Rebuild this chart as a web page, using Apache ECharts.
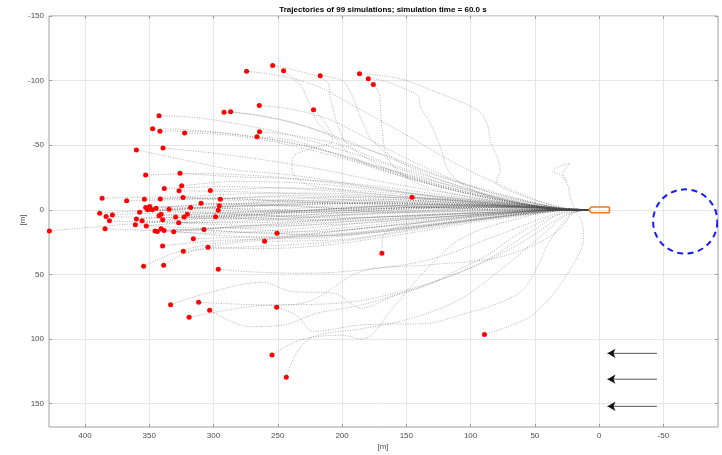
<!DOCTYPE html>
<html><head><meta charset="utf-8">
<script src="https://cdn.jsdelivr.net/npm/echarts@6/dist/echarts.min.js"></script>
<style>html,body{margin:0;padding:0;background:#fff}#c{width:722px;height:455px}</style>
</head><body><div id="c"></div>
<script>
const titleText = 'Trajectories of 99 simulations; simulation time = 60.0 s';
const xLimits = [-92.5, 428];
const yLimits = [-150, 168];
const xTickValues = [-50, 0, 50, 100, 150, 200, 250, 300, 350, 400];
const yTickValues = [-150, -100, -50, 0, 50, 100, 150];

// each trajectory: end point first, back to the start at the ship's bow
const upperTrajectories = [
 [[274.3,-107.3],[250,-104],[220,-96],[190,-80],[150,-58],[110,-35],[60,-12],[30,-2],[8,0]],
 [[254,-111.7],[237.7,-108.4],[211.7,-99.3],[209,-86.5],[204,-68],[195,-50],[160,-30],[100,-12],[45,-3],[25,-1],[8,0]],
 [[245.5,-107.6],[232.5,-96.7],[227.3,-86.5],[219.5,-68.3],[207,-54],[225,-47],[238,-41],[239,-31],[232,-22],[219,-18],[170,-12],[100,-6],[45,-2],[25,0],[8,0]],
 [[217,-103.7],[200,-100],[192,-88],[185,-70],[175,-52],[145,-32],[90,-13],[40,-3],[22,0],[8,0]],
 [[186.4,-105.3],[157,-102],[131.4,-92.9],[95.1,-77.4],[87.3,-67.1],[84.8,-54.2],[77,-31],[80,-22],[60,-11],[38,-4],[24,-1],[8,0]],
 [[179.6,-101.4],[170.3,-100.6],[149.5,-92.9],[140.5,-87.7],[139.2,-80],[131.4,-67.1],[123.6,-49],[115.9,-28.4],[92.5,-12.9],[55,-4],[26,-1],[8,0]],
 [[175.7,-97],[171,-90],[170.3,-82.6],[169,-64.5],[163.8,-38.7],[141.8,-20.7],[100,-10],[50,-3],[25,0],[8,0]],
 [[264.4,-80.7],[240,-78],[210,-70],[180,-55],[140,-35],[90,-15],[40,-3],[24,0],[8,0]],
 [[222.2,-77.4],[215,-70],[205,-55],[190,-40],[150,-25],[100,-12],[50,-3],[25,-1],[8,0]],
 [[291.8,-75.6],[270,-74],[240,-68],[200,-55],[150,-35],[90,-15],[40,-3],[24,0],[8,0]],
 [[286.7,-75.9],[260,-72],[230,-65],[190,-50],[160,-40],[120,-25],[60,-8],[28,-1],[8,0]],
 [[264.2,-60.4],[240,-58],[200,-50],[170,-38],[130,-25],[80,-10],[35,-2],[22,0],[8,0]],
 [[266.2,-56.5],[240,-54],[210,-45],[170,-33],[120,-20],[60,-5],[27,-1],[8,0]],
 [[342.4,-72.8],[310,-71],[258,-62],[230,-55],[180,-40],[120,-20],[60,-5],[27,0],[8,0]],
 [[347.4,-62.7],[320,-62],[280,-58],[230,-50],[180,-35],[120,-18],[60,-5],[28,-1],[8,0]],
 [[341.7,-60.9],[300,-60],[260,-55],[210,-45],[160,-30],[100,-13],[50,-3],[25,0],[8,0]],
 [[322.5,-59.4],[290,-58],[250,-52],[200,-40],[150,-25],[90,-10],[40,-2],[22,0],[8,0]],
 [[339.3,-47.8],[310,-45],[270,-40],[220,-32],[170,-22],[100,-10],[50,-3],[25,0],[8,0]],
 [[360,-46.4],[310,-36],[284.5,-31],[240,-27],[180,-18],[110,-8],[50,-2],[26,0],[8,0]]
];

const centralTrajectories = [
 [[427.7,16.3],[390,13],[340,9],[270,4],[190,-2],[110,-4],[50,-2],[28,-1],[8,0]],
 [[386.7,-9],[340,-10],[270,-8],[190,-6],[110,-4],[50,-2],[26,0],[8,0]],
 [[388.6,2.6],[340,0],[260,-3],[180,-5],[100,-3],[45,-1],[24,0],[8,0]],
 [[383.6,5.2],[330,6],[250,3],[170,-1],[90,-3],[40,-1],[25,0],[8,0]],
 [[378.7,3.9],[320,2],[240,5],[160,2],[80,0],[35,0],[22,0],[8,0]],
 [[381,8.5],[330,10],[260,8],[190,4],[110,1],[45,0],[26,0],[8,0]],
 [[384.4,14.7],[340,16],[270,12],[200,7],[120,3],[50,1],[27,0],[8,0]],
 [[367.6,-7],[320,-8],[250,-10],[180,-7],[100,-4],[40,-1],[24,0],[8,0]],
 [[352.8,-26.9],[310,-28],[260,-26],[200,-20],[140,-12],[70,-5],[30,-1],[8,0]],
 [[353.8,-8.3],[300,-9],[230,-6],[150,-5],[80,-3],[35,-1],[22,0],[8,0]],
 [[357.5,1.8],[300,-2],[230,-4],[160,-6],[90,-4],[40,-1],[25,0],[8,0]],
 [[360,7],[310,5],[240,1],[160,-2],[90,-2],[40,0],[24,0],[8,0]],
 [[360.8,11.6],[310,14],[250,13],[180,8],[110,3],[50,1],[28,0],[8,0]],
 [[355.6,8.5],[300,10],[230,9],[160,5],[90,2],[40,0],[25,0],[8,0]],
 [[352.3,12.4],[300,8],[230,4],[160,0],[90,-2],[40,-1],[24,0],[8,0]],
 [[352.8,-1.8],[300,-4],[240,-7],[170,-8],[100,-5],[45,-2],[26,0],[8,0]],
 [[351.2,0],[290,2],[220,0],[150,-3],[80,-3],[35,-1],[22,0],[8,0]],
 [[349.7,-2.6],[290,-1],[220,2],[150,1],[80,-1],[35,0],[23,0],[8,0]],
 [[347.6,0],[280,-3],[210,-5],[140,-4],[70,-2],[30,0],[8,0]],
 [[344.7,-1.3],[290,-5],[230,-3],[160,2],[90,1],[40,0],[25,0],[8,0]],
 [[338.3,-16.5],[290,-18],[230,-16],[160,-11],[90,-6],[40,-2],[25,0],[8,0]],
 [[341.4,-8.5],[290,-12],[220,-13],[150,-9],[80,-4],[35,-1],[22,0],[8,0]],
 [[342.4,4.6],[290,3],[220,6],[150,5],[80,2],[35,0],[22,0],[8,0]],
 [[340.8,3.3],[280,5],[210,3],[140,-1],[70,-2],[30,-1],[8,0]],
 [[339.6,7.7],[280,6],[210,8],[140,6],[70,2],[30,0],[8,0]],
 [[345.5,16.3],[300,18],[240,15],[170,9],[100,4],[45,1],[26,0],[8,0]],
 [[343.7,16.8],[290,14],[230,17],[160,12],[90,5],[40,1],[25,0],[8,0]],
 [[340.8,14.7],[280,17],[220,19],[150,13],[80,5],[35,1],[22,0],[8,0]],
 [[338.5,16],[290,20],[230,22],[170,17],[100,8],[45,2],[26,0],[8,0]],
 [[339.6,27.9],[300,24],[250,22],[190,18],[120,10],[60,3],[28,0],[8,0]],
 [[326.1,-28.4],[290,-26],[240,-24],[180,-19],[110,-10],[50,-3],[26,0],[8,0]],
 [[324.8,-18.6],[280,-22],[220,-20],[160,-14],[90,-7],[40,-2],[24,0],[8,0]],
 [[326.8,-14.7],[280,-14],[220,-12],[150,-9],[80,-5],[35,-1],[22,0],[8,0]],
 [[323.7,-9.5],[270,-7],[200,-10],[140,-9],[80,-5],[35,-1],[22,0],[8,0]],
 [[334.6,-0.5],[280,-1],[210,1],[140,-2],[70,-3],[30,-1],[8,0]],
 [[331,17],[280,13],[220,10],[150,7],[80,3],[35,0],[22,0],[8,0]],
 [[329.5,5.6],[270,7],[200,4],[130,0],[70,-2],[30,-1],[8,0]],
 [[327.1,10],[270,12],[200,11],[130,6],[70,2],[30,0],[8,0]],
 [[322.9,5.6],[260,3],[190,-2],[120,-4],[60,-3],[28,-1],[8,0]],
 [[320.4,3.3],[260,1],[200,-3],[130,-2],[70,0],[30,0],[8,0]],
 [[317.8,-1.8],[260,-4],[190,-7],[120,-6],[60,-3],[28,-1],[8,0]],
 [[309.7,-5.2],[250,-3],[180,-1],[110,-2],[55,-1],[25,0],[8,0]],
 [[302.5,-15],[250,-17],[190,-15],[120,-9],[60,-4],[28,-1],[8,0]],
 [[294.7,-8.3],[240,-11],[180,-9],[120,-6],[60,-2],[28,0],[8,0]],
 [[295.5,-3.1],[240,-6],[170,-4],[110,-1],[55,0],[25,0],[8,0]],
 [[296.3,0.3],[240,2],[170,-1],[100,-3],[50,-2],[25,0],[8,0]],
 [[298.4,5.4],[240,8],[180,6],[110,3],[55,1],[25,0],[8,0]],
 [[307.4,15.2],[260,18],[200,14],[140,8],[70,3],[30,0],[8,0]],
 [[315.7,22.4],[270,21],[210,20],[150,14],[80,6],[35,1],[22,0],[8,0]],
 [[250.6,18],[220,20],[170,17],[110,9],[60,3],[28,0],[8,0]],
 [[145.6,-9.8],[120,-8],[90,-5],[55,-2],[30,-1],[8,0]],
 [[169,33.5],[168,20],[150,12],[100,5],[50,1],[26,0],[8,0]],
 [[260.3,24.2],[230,24],[190,22],[140,14],[80,6],[35,1],[22,0],[8,0]]
];

const lowerTrajectories = [
 [[89.2,96.5],[70,90],[50,80],[25,50],[12,20],[14,8],[18,2],[8,0]],
 [[243.4,129.5],[235,110],[222,98],[185,92],[150,85],[110,70],[75,45],[45,20],[25,4],[8,0]],
 [[254.5,112.2],[232.5,100.6],[200,97],[185,100],[159,74],[138,50],[107,22],[60,6],[26,0],[8,0]],
 [[250.9,75.3],[235,82],[222,94],[185,89],[133,87.7],[107,81],[81.6,73.5],[60.6,63],[50,47.8],[40,27],[29.5,11.6],[20,2],[8,0]],
 [[333.4,73.5],[310,65.8],[261,56],[250.6,59.3],[240,63],[206.6,64.5],[185,76],[159,66],[133,58],[107,45],[86.5,34.8],[68.4,22],[50,11.6],[30,3],[8,0]],
 [[311.6,71.5],[258,73.5],[200,72],[150,62],[100,45],[60,25],[25,3],[8,0]],
 [[303,77.6],[271.4,90.3],[245.5,89],[219.5,80],[185,73.5],[140,60],[90,40],[50,15],[24,1],[8,0]],
 [[319,83.1],[271.4,74.8],[230,72],[185,47.8],[133,42.6],[81.4,37.4],[50,27],[29.5,14],[20,2],[8,0]],
 [[296.3,45.9],[270,48],[230,49],[180,46],[130,38],[80,20],[40,5],[22,0],[8,0]],
 [[304.3,28.9],[270,30],[220,28],[160,20],[100,10],[40,2],[24,0],[8,0]],
 [[323.5,32],[300,30],[260,28],[200,24],[140,15],[80,6],[30,0],[8,0]],
 [[354.4,43.6],[331,33.5],[305,27],[260,22],[200,16],[130,9],[60,2],[28,0],[8,0]],
 [[338.8,42.8],[325,35],[300,28],[250,22],[190,15],[120,7],[50,1],[25,0],[8,0]]
];

// short looping run near the start (end marker hidden)
const loopTrajectory = [[25,-22],[30,-27],[36,-30],[30,-34],[22,-36],[28,-28],[24,-18],[22,-8],[18,-1],[8,0]];

const shipOutline = [[8,0],[6,-2.2],[-8,-2.2],[-8,2.2],[6,2.2],[8,0]];
const dangerZone = [[-67, 9, 25]];          // centre x, centre y, radius
const windArrowY = [111, 131, 152];
const windArrowTail = -45;
const windArrowHead = -6.5;

const allTrajectories = upperTrajectories.concat(centralTrajectories, lowerTrajectories);

const trajStyle = {color: 'rgba(70,70,70,0.6)', width: 0.7, type: [1, 1.5]};
const FONT = 'Liberation Sans, Arial, sans-serif';

const series = [];
allTrajectories.concat([loopTrajectory]).forEach(function (t) {
  series.push({type: 'line', data: t, showSymbol: false, symbol: 'none', smooth: 0.35,
    lineStyle: trajStyle, silent: true, z: 2});
});
series.push({type: 'scatter', data: allTrajectories.map(function (t) { return t[0]; }),
  symbol: 'circle', symbolSize: 5, itemStyle: {color: '#ff0000', opacity: 1}, z: 5, silent: true});
series.push({type: 'line', data: shipOutline, showSymbol: false, symbol: 'none',
  lineStyle: {color: '#f07a22', width: 1.6}, z: 4, silent: true});
series.push({type: 'custom', data: dangerZone, clip: true, z: 4, silent: true,
  renderItem: function (params, api) {
    const c = api.coord([api.value(0), api.value(1)]);
    const r = api.size([api.value(2), 0])[0];
    return {type: 'circle', shape: {cx: c[0], cy: c[1], r: r},
      style: {fill: 'none', stroke: '#1a1aff', lineWidth: 2, lineDash: [6, 4.5]}};
  }});
windArrowY.forEach(function (y) {
  series.push({type: 'line', data: [[windArrowTail, y], [windArrowHead, y]], showSymbol: false,
    symbol: 'none', lineStyle: {color: '#555', width: 1}, z: 4, silent: true});
});
series.push({type: 'scatter', data: windArrowY.map(function (y) { return [windArrowHead, y]; }),
  symbol: 'arrow', symbolRotate: 90, symbolSize: [7, 8], itemStyle: {color: '#111', opacity: 1}, z: 5, silent: true});

function axis(kind, pos, showLabels, showSplit) {
  const ticks = kind === 'x' ? xTickValues : yTickValues;
  const lim = kind === 'x' ? xLimits : yLimits;
  return {
    type: 'value', position: pos, inverse: true, min: lim[0], max: lim[1],
    axisLine: {show: false, onZero: false},
    axisTick: {show: true, inside: true, length: 3, customValues: ticks, lineStyle: {color: '#9a9a9a'}},
    axisLabel: {show: showLabels, customValues: ticks, color: '#4d4d4d', fontSize: 8, fontFamily: FONT, margin: 5},
    splitLine: {show: showSplit, lineStyle: {color: '#e6e6e6', width: 1}}
  };
}

const chart = echarts.init(document.getElementById('c'), null, {renderer: 'canvas'});
chart.setOption({
  animation: false,
  backgroundColor: '#fff',
  grid: {left: 49, right: 4, top: 16, bottom: 28, show: true, borderColor: '#a0a0a0', borderWidth: 1, containLabel: false},
  xAxis: [axis('x', 'bottom', true, true), axis('x', 'top', false, false)],
  yAxis: [axis('y', 'left', true, true), axis('y', 'right', false, false)],
  graphic: [
    {type: 'text', x: 383, y: 9.5, style: {text: titleText, font: 'bold 8px ' + FONT, fill: '#000', textAlign: 'center', textVerticalAlign: 'middle'}},
    {type: 'text', x: 383, y: 447, style: {text: '[m]', font: '8px ' + FONT, fill: '#4d4d4d', textAlign: 'center', textVerticalAlign: 'middle'}},
    {type: 'text', x: 23, y: 220, rotation: Math.PI / 2, style: {text: '[m]', font: '8px ' + FONT, fill: '#4d4d4d', textAlign: 'center', textVerticalAlign: 'middle'}}
  ],
  series: series
});
</script></body></html>
